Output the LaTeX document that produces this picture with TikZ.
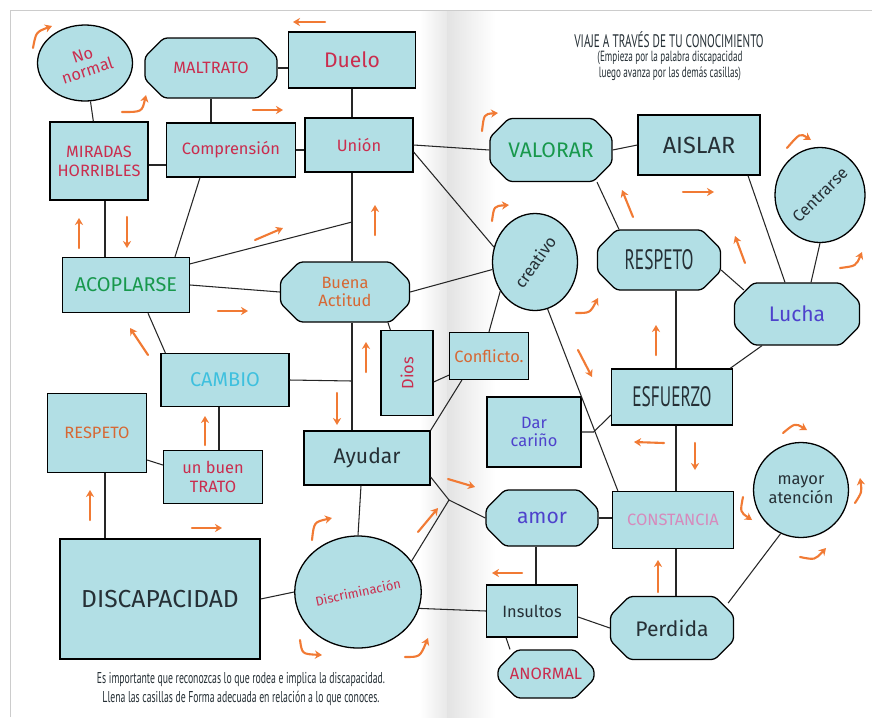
\documentclass[tikz,border=0pt]{standalone}
\usepackage{fontspec}
\setmainfont{Liberation Sans}
\newfontfamily\manofont{Fira Sans}
\newfontfamily\impresofont[FakeStretch=0.62]{PT Sans}
\usetikzlibrary{calc, shapes.geometric, shapes.misc, arrows.meta}
\definecolor{acuarela}{RGB}{178,223,229}
\definecolor{naranja}{RGB}{241,122,52}
\definecolor{rojo}{RGB}{202,45,78}
\definecolor{verde}{RGB}{24,152,76}
\definecolor{celeste}{RGB}{62,192,222}
\definecolor{morado}{RGB}{78,66,204}
\definecolor{rosa}{RGB}{214,138,188}
\definecolor{marron}{RGB}{214,104,52}
\definecolor{tinta}{RGB}{38,48,54}

\begin{document}
\begin{tikzpicture}[x=0.03cm, y=-0.03cm,
  caja/.style={draw=black, line width=1.1pt, fill=acuarela, inner sep=1pt, align=center,
    font=\manofont\fontsize{14}{16}\selectfont},
  rect/.style={caja, rectangle},
  hexa/.style={caja, chamfered rectangle, chamfered rectangle xsep=6pt,
    chamfered rectangle ysep=10pt, rounded corners=3pt},
  bola/.style={caja, ellipse},
  impreso/.style={font=\impresofont\fontsize{24}{26}\selectfont, text=tinta},
  linea/.style={line width=0.9pt, black!85},
  flecha/.style={naranja, line width=1.8pt, line cap=round, -{Stealth[length=6pt, width=7pt]}},
]
\useasboundingbox (0,0) rectangle (872,717);
% Page and fold
\fill[white] (0,0) rectangle (872,717);
\shade[left color=white, right color=gray!18] (420,10) rectangle (447,717);
\shade[left color=gray!22, right color=white] (447,10) rectangle (495,717);
\draw[gray!40] (10,717) -- (10,10) -- (872,10);

% Titles
\node[font=\impresofont\fontsize{15.5}{17}\selectfont, text=tinta] (titulo) at (669,40) {VIAJE A TRAVÉS DE TU CONOCIMIENTO};
\node[font=\impresofont\fontsize{12.6}{14}\selectfont, text=tinta, align=center] (subtitulo) at (670,66)
  {(Empieza por la palabra discapacidad\\luego avanza por las demás casillas)};
\node[font=\impresofont\fontsize{13.4}{15.5}\selectfont, text=tinta, align=center] (nota) at (241,689)
  {Es importante que reconozcas lo que rodea e implica la discapacidad.\\Llena las casillas de Forma adecuada en relación a lo que conoces.};

% Left page boxes
\node[bola, minimum width=2.85cm, minimum height=2.28cm, text=rojo] (nonormal) at (85,63) {\rotatebox{18}{\shortstack{No\\normal}}};
\node[hexa, minimum width=3.96cm, minimum height=1.8cm, text=rojo] (maltrato) at (211,68) {MALTRATO};
\node[rect, minimum width=3.81cm, minimum height=1.68cm, text=rojo] (duelo) at (352,60) {\fontsize{18}{20}\selectfont Duelo};
\node[rect, minimum width=2.94cm, minimum height=2.34cm, text=rojo] (miradas) at (99,161) {MIRADAS\\HORRIBLES};
\node[rect, minimum width=3.87cm, minimum height=1.62cm, text=rojo] (comprension) at (231,150) {Comprensión};
\node[rect, minimum width=3.24cm, minimum height=1.62cm, text=rojo] (union) at (359,145) {Unión};
\node[rect, minimum width=3.81cm, minimum height=1.65cm, text=verde] (acoplarse) at (126,285) {\fontsize{17}{19}\selectfont ACOPLARSE};
\node[hexa, minimum width=3.87cm, minimum height=1.8cm, text=marron] (buena) at (345,292) {Buena\\Actitud};
\node[rect, minimum width=1.56cm, minimum height=2.55cm, text=rojo] (dios) at (407,373) {\rotatebox{90}{Dios}};
\node[rect, minimum width=3.84cm, minimum height=1.59cm, text=celeste] (cambio) at (225,380) {\fontsize{17}{19}\selectfont CAMBIO};
\node[rect, minimum width=2.97cm, minimum height=2.37cm, text=marron] (respetoL) at (97,433) {RESPETO};
\node[rect, minimum width=2.97cm, minimum height=1.59cm, text=rojo] (trato) at (213,477) {un buen\\TRATO};
\node[rect, minimum width=3.78cm, minimum height=1.62cm, text=tinta] (ayudar) at (367,458) {\fontsize{18}{20}\selectfont Ayudar};
\node[rect, minimum width=6cm, minimum height=3.6cm, text=tinta] (discapacidad) at (160,599) {\fontsize{21}{23}\selectfont DISCAPACIDAD};
\node[bola, minimum width=3.21cm, minimum height=3.36cm, text=rojo] (discriminacion) at (358,592) {\rotatebox{12}{\fontsize{11}{13}\selectfont Discriminación}};

% Right page boxes
\node[rect, minimum width=2.37cm, minimum height=1.41cm, text=marron] (conflicto) at (489,356) {Conflicto.};
\node[hexa, minimum width=3.66cm, minimum height=1.89cm, text=verde] (valorar) at (551,150) {\fontsize{18}{20}\selectfont VALORAR};
\node[rect, minimum width=3.66cm, minimum height=1.8cm, text=tinta] (aislar) at (699,145) {\fontsize{20}{22}\selectfont AISLAR};
\node[bola, minimum width=2.7cm, minimum height=2.85cm, text=tinta] (centrarse) at (820,195) {\rotatebox{45}{Centrarse}};
\node[bola, minimum width=2.55cm, minimum height=2.91cm, text=tinta] (creativo) at (535,262) {\rotatebox{55}{creativo}};
\node[hexa, minimum width=3.69cm, minimum height=1.8cm, impreso] (respetoR) at (659,260) {RESPETO};
\node[hexa, minimum width=3.75cm, minimum height=1.86cm, text=morado] (lucha) at (797,314) {\fontsize{18}{20}\selectfont Lucha};
\node[rect, minimum width=3.63cm, minimum height=1.68cm, impreso] (esfuerzo) at (672,397) {ESFUERZO};
\node[rect, minimum width=2.82cm, minimum height=2.1cm, text=morado] (darcarino) at (534,432) {Dar\\cariño};
\node[hexa, minimum width=3.36cm, minimum height=1.68cm, text=morado] (amor) at (542,518) {\fontsize{18}{20}\selectfont amor};
\node[rect, minimum width=3.63cm, minimum height=1.71cm, text=rosa] (constancia) at (673,520) {CONSTANCIA};
\node[bola, minimum width=2.61cm, minimum height=2.85cm, text=tinta] (mayor) at (801,490) {mayor\\atención};
\node[rect, minimum width=2.73cm, minimum height=1.56cm, text=tinta] (insultos) at (532,611) {Insultos};
\node[hexa, minimum width=3.69cm, minimum height=1.89cm, text=tinta] (perdida) at (672,628) {\fontsize{18}{20}\selectfont Perdida};
\node[hexa, minimum width=2.88cm, minimum height=1.44cm, text=rojo] (anormal) at (546,674) {ANORMAL};

% Junctions on the middle spine
\coordinate (eje) at (352,0);
\coordinate (cruce1) at (352,222);
\coordinate (cruce2) at (352,381);
\coordinate (pliegue) at (449,500);

% Connectors, left page
\draw[linea] (nonormal) -- (miradas);
\draw[linea] (maltrato.east) -- (maltrato.east -| duelo.west);
\draw[linea] (maltrato.south) -- (maltrato.south |- comprension.north);
\draw[linea] (duelo.south) -- (duelo.south |- union.north);
\draw[linea] ($(miradas.east)+(0,4)$) -- ($(miradas.east -| comprension.west)+(0,4)$);
\draw[linea] (comprension.east) -- (comprension.east -| union.west);
\draw[linea] (union.south -| eje) -- (buena.north -| eje);
\draw[linea] ($(acoplarse.north east)+(0,7)$) -- (cruce1);
\draw[linea] ($(comprension.south)+(-31,0)$) -- ($(acoplarse.north)+(49,0)$);
\draw[linea] ($(miradas.south)+(6,0)$) -- ($(miradas.south |- acoplarse.north)+(6,0)$);
\draw[linea] (acoplarse.east) -- (buena.west);
\draw[linea] ($(acoplarse.south)+(22,0)$) -- ($(cambio.north west)+(5,0)$);
\draw[linea] (cambio.east) -- (cruce2);
\draw[linea] (buena.south -| eje) -- (ayudar.north -| eje);
\draw[linea] ($(buena.south)+(43,0)$) -- ($(dios.north west)+(10,0)$);
\draw[linea] ($(respetoL.south)+(8,0)$) -- ($(respetoL.south |- discapacidad.north)+(8,0)$);
\draw[linea] ($(respetoL.east)+(0,27)$) -- ($(trato.west)+(0,-12)$);
\draw[linea] ($(trato.north)+(6,0)$) -- ($(trato.north |- cambio.south)+(6,0)$);
\draw[linea] ($(ayudar.south)+(-6,0)$) -- (discriminacion.north);
\draw[linea] (discapacidad.east) -- (discriminacion.west);

% Connectors across the fold
\draw[linea] (union.east) -- (valorar.west);
\draw[linea] ($(union.east)+(0,7)$) -- (creativo.160);
\draw[linea] (buena.east) -- (creativo.190);
\draw[linea] ($(dios.east)+(0,9)$) -- ($(conflicto.south west)+(0,-5)$);
\draw[linea] ($(conflicto.south west)+(13,0)$) -- (ayudar.north east);
\draw[linea] ($(ayudar.east)+(0,19)$) -- (pliegue);
\draw[linea] (discriminacion.30) -- (pliegue) -- (amor.west);
\draw[linea] (discriminacion.-15) -- (insultos.west);

% Connectors, right page
\draw[linea] (valorar.east) -- (aislar.west);
\draw[linea] ($(valorar.south)+(46,0)$) -- ($(respetoR.north)+(-40,0)$);
\draw[linea] ($(aislar.south)+(49,0)$) -- ($(lucha.north)+(-12,0)$);
\draw[linea] (centrarse.south) -- ($(lucha.north)+(14,0)$);
\draw[linea] ($(respetoR.east)+(0,10)$) -- ($(lucha.west)+(10,-24)$);
\draw[linea] ($(respetoR.south)+(17,0)$) -- ($(respetoR.south |- esfuerzo.north)+(17,0)$);
\draw[linea] ($(esfuerzo.north east)+(-3,0)$) -- ($(lucha.south)+(-35,0)$);
\draw[linea] (creativo.220) -- (conflicto.north);
\draw[linea] (creativo.285) -- ($(constancia.north west)+(6,0)$);
\draw[linea] (darcarino.east) -- ++(12,0) -- ($(esfuerzo.west)+(0,18)$);
\draw[linea] ($(esfuerzo.south)+(4,0)$) -- ($(esfuerzo.south |- constancia.north)+(4,0)$);
\draw[linea] (amor.east) -- (amor.east -| constancia.west);
\draw[linea] ($(amor.south)+(-6,0)$) -- ($(amor.south |- insultos.north)+(-6,0)$);
\draw[linea] ($(insultos.east)+(0,6)$) -- (perdida.west);
\draw[linea] ($(insultos.south)+(-26,0)$) -- ($(anormal.north)+(-36,0)$);
\draw[linea] ($(perdida.north)+(4,0)$) -- ($(perdida.north |- constancia.south)+(4,0)$);
\draw[linea] ($(perdida.east)+(-6,-25)$) -- (mayor.245);

% Orange arrows, straight
\foreach \xa/\ya/\xb/\yb in {325/22/293/22, 253/110/283/110, 79/248/79/218, 127/217/127/248,
    255/240/283/228, 375/235/375/205, 218/311/248/311, 148/355/130/328, 366/372/366/342,
    337/393/337/425, 205/445/205/416, 90/520/90/490, 192/528/222/528, 418/532/438/508,
    448/479/475/487, 633/217/622/190, 683/192/714/192, 578/350/592/377, 656/355/656/325,
    745/263/735/236, 664/443/634/442, 695/443/695/470, 658/592/658/560, 522/573/492/573}
  \draw[flecha] (\xa,\ya) -- (\xb,\yb);
% Orange arrows, hooked
\foreach \xa/\ya/\xc/\yc/\xb/\yb in {33/48/36/32/52/26, 122/112/142/112/146/95,
    312/540/314/522/332/518, 300/640/302/654/322/655, 405/657/420/657/428/638,
    482/131/484/114/498/113, 492/221/494/206/509/205, 576/313/590/313/598/298,
    787/148/800/133/811/140, 840/268/856/266/862/252, 783/433/795/423/807/430,
    743/497/740/512/752/520, 855/503/862/492/860/478, 800/557/815/560/826/548}
  \draw[flecha] (\xa,\ya) .. controls (\xc,\yc) .. (\xb,\yb);
\end{tikzpicture}
\end{document}
